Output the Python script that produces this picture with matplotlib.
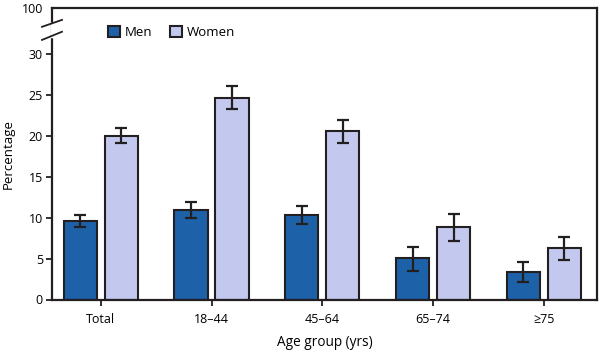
import matplotlib
matplotlib.use("Agg")
import matplotlib.pyplot as plt
import numpy as np

categories = ["Total", "18\u201344", "45\u201364", "65\u201374", "\u226575"]
men = [9.6, 10.9, 10.3, 5.1, 3.4]
men_lo = [8.9, 9.9, 9.2, 3.5, 2.1]
men_hi = [10.3, 11.9, 11.4, 6.4, 4.6]
women = [20.0, 24.6, 20.6, 8.9, 6.3]
women_lo = [19.1, 23.3, 19.1, 7.2, 4.8]
women_hi = [20.9, 26.1, 21.9, 10.4, 7.6]
ytick_vals = [0, 5, 10, 15, 20, 25, 30]
ytick_labels = ["0", "5", "10", "15", "20", "25", "30"]
top_label = "100"

plt.rcParams['font.family'] = ['Open Sans', 'DejaVu Sans']

fig = plt.figure(figsize=(6.05, 3.52), dpi=100)
ax = fig.add_axes([52/605, (352-299.5)/352, 545/605, 291.5/352])

top = 35.6
x = np.arange(len(categories))
w = 0.30
off = 0.185
edge = "#231f20"
c_men = "#1d62a8"
c_women = "#c3c9ee"

men_err = [np.array(men) - np.array(men_lo), np.array(men_hi) - np.array(men)]
women_err = [np.array(women) - np.array(women_lo), np.array(women_hi) - np.array(women)]

b1 = ax.bar(x - off, men, w, color=c_men, edgecolor=edge, linewidth=1.5, label="Men", zorder=2)
b2 = ax.bar(x + off, women, w, color=c_women, edgecolor=edge, linewidth=1.5, label="Women", zorder=2)
ax.errorbar(x - off, men, yerr=men_err, fmt="none", ecolor=edge, elinewidth=1.6, capsize=4.5, capthick=1.6, zorder=3)
ax.errorbar(x + off, women, yerr=women_err, fmt="none", ecolor=edge, elinewidth=1.6, capsize=4.5, capthick=1.6, zorder=3)

ax.set_xlim(-0.44, 4.48)
ax.set_ylim(0, top)
ax.set_xticks(x)
ax.set_xticklabels(categories, fontsize=9)
ax.set_yticks(ytick_vals + [top])
ax.set_yticklabels(ytick_labels + [top_label], fontsize=9)
ax.tick_params(axis="both", direction="out", length=4.5, width=1.3, color=edge)
ax.tick_params(axis="y", pad=2)
ax.tick_params(axis="x", pad=5)
ax.get_yticklines()[-2].set_visible(False)

for s in ax.spines.values():
    s.set_linewidth(1.6)
    s.set_color(edge)

ax.set_ylabel("Percentage", fontsize=9.5, labelpad=5)
ax.set_xlabel("Age group (yrs)", fontsize=9.8, labelpad=7)

# axis break marks
trans = ax.get_yaxis_transform()
dx = 10/545
ax.plot([0, 0], [32.2, 33.7], transform=trans, color="white", lw=2.5, clip_on=False, zorder=5)
ax.plot([-dx, dx], [33.3, 34.15], transform=trans, color=edge, lw=1.3, clip_on=False, zorder=6)
ax.plot([-dx, dx], [31.7, 32.7], transform=trans, color=edge, lw=1.3, clip_on=False, zorder=6)

leg = ax.legend(handles=[b1, b2], loc="upper left", bbox_to_anchor=(0.093, 0.955), ncol=2,
                frameon=False, fontsize=9.5, handlelength=0.9, handleheight=0.9,
                handletextpad=0.4, columnspacing=1.3, borderaxespad=0)

fig.savefig("out.png", dpi=100)
